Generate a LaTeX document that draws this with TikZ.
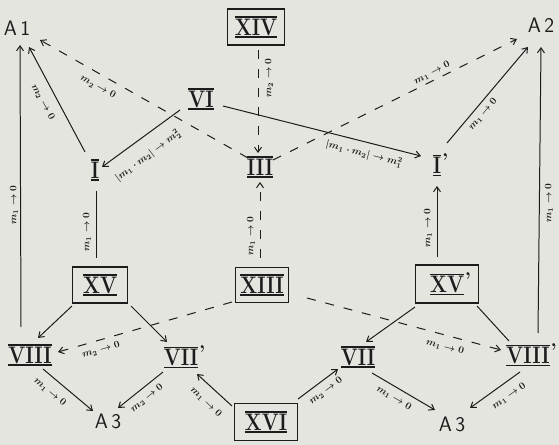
\documentclass[tikz,border=0pt]{standalone}
\usepackage{fontspec}
\usepackage{graphicx}
\usetikzlibrary{arrows.meta}
\definecolor{bg}{RGB}{228,229,223}
\definecolor{ink}{RGB}{28,28,28}
\newcommand{\rnm}[1]{\vbox{\hrule height 1.4pt\kern 1pt\hbox{\scalebox{1}[1.2]{#1}}\kern 1pt\hrule height 1.4pt}}
\newcommand{\prm}{\rlap{\raisebox{8pt}{\kern1pt\textquoteright}}}
\tikzset{
  rnode/.style={inner sep=1pt, font=\bfseries\fontsize{20}{22}\selectfont, text=ink},
  rbox/.style={rnode, draw=ink, line width=1.4pt, inner sep=0pt},
  anode/.style={font=\sffamily\fontsize{21}{23}\selectfont, text=ink, inner sep=1pt},
  lbl/.style={font=\fontsize{10}{11}\selectfont\boldmath, text=ink, inner sep=0pt},
  con/.style={draw=ink, line width=1pt},
  arr/.style={con, -{Straight Barb[length=5pt,width=7pt]}},
  dsh/.style={arr, dash pattern=on 9pt off 10pt},
}
\begin{document}
\begin{tikzpicture}[x=1bp,y=-1bp]
\fill[bg] (0,0) rectangle (559,445);
\useasboundingbox (0,0) rectangle (559,445);
% nodes
\node[anode] (A1) at (17,28) {A\,1};
\node[anode] (A2) at (541,25) {A\,2};
\node[rbox, minimum width=57bp, minimum height=36bp] (XIV) at (256,27) {\rnm{XIV}};
\node[rnode] (VI) at (201,99) {\rnm{VI}};
\node[rnode] (I) at (95,170) {\rnm{I}};
\node[rnode] (III) at (260,167) {\rnm{III}};
\node[rnode] (Ip) at (437,165) {\rnm{I}\prm};
\node[rbox, minimum width=55bp, minimum height=36bp] (XV) at (100,285) {\rnm{XV}};
\node[rbox, minimum width=53bp, minimum height=35bp] (XIII) at (262,285) {\rnm{XIII}};
\node[rbox, minimum width=63bp, minimum height=38bp] (XVp) at (447,284) {\rnm{XV}\prm};
\node[rnode] (VIII) at (30,355) {\rnm{VIII}};
\node[rnode] (VIIp) at (181,357) {\rnm{VII}\prm};
\node[rnode] (VII) at (358,357) {\rnm{VII}};
\node[rnode] (VIIIp) at (528,355) {\rnm{VIII}\prm};
\node[anode] (A3l) at (108,421) {A\,3};
\node[anode] (A3r) at (452,424) {A\,3};
\node[rbox, minimum width=63bp, minimum height=37bp] (XVI) at (266,422) {\rnm{XVI}};
% connectors
\draw[arr] ([shift={(-9,-28)}]VIII.center) -- ([shift={(3,17)}]A1.center);
\draw[arr] ([shift={(-10,-18)}]I.center) -- ([shift={(12,19)}]A1.center);
\draw[dsh] ([shift={(-12,-9)}]III.center) -- ([shift={(23,12)}]A1.center);
\draw[arr] ([shift={(-21,11)}]VI.center) -- ([shift={(7,-3)}]I.center);
\draw[arr] ([shift={(22,7)}]VI.center) -- ([shift={(-16,-9)}]Ip.center);
\draw[dsh] ([shift={(2,23)}]XIV.center) -- ([shift={(-2,-14)}]III.center);
\draw[dsh] ([shift={(-2,-27)}]XIII.center) -- ([shift={(0,15)}]III.center);
\draw[dsh] ([shift={(13,-7)}]III.center) -- ([shift={(-24,14)}]A2.center);
\draw[arr] ([shift={(10,-22)}]Ip.center) -- ([shift={(-13,22)}]A2.center);
\draw[arr] ([shift={(10,-22)}]VIIIp.center) -- ([shift={(0,22)}]A2.center);
\draw[con] ([shift={(-4,-27)}]XV.center) -- ([shift={(1,21)}]I.center);
\draw[arr] ([shift={(-10,-27)}]XVp.center) -- ([shift={(0,21)}]Ip.center);
\draw[arr] ([shift={(-28,21)}]XV.center) -- ([shift={(8,-17)}]VIII.center);
\draw[arr] ([shift={(31,21)}]XV.center) -- ([shift={(-14,-15)}]VIIp.center);
\draw[dsh] ([shift={(-30,17)}]XIII.center) -- ([shift={(28,-3)}]VIII.center);
\draw[dsh] ([shift={(45,13)}]XIII.center) -- ([shift={(-27,-5)}]VIIIp.center);
\draw[arr] ([shift={(-32,23)}]XVp.center) -- ([shift={(8,-15)}]VII.center);
\draw[con] ([shift={(30,22)}]XVp.center) -- ([shift={(-19,-14)}]VIIIp.center);
\draw[arr] ([shift={(13,14)}]VIII.center) -- ([shift={(-15,-10)}]A3l.center);
\draw[arr] ([shift={(-18,15)}]VIIp.center) -- ([shift={(10,-13)}]A3l.center);
\draw[arr] ([shift={(-34,-16)}]XVI.center) -- ([shift={(16,17)}]VIIp.center);
\draw[arr] ([shift={(32,-23)}]XVI.center) -- ([shift={(-20,12)}]VII.center);
\draw[arr] ([shift={(14,16)}]VII.center) -- ([shift={(-17,-14)}]A3r.center);
\draw[arr] ([shift={(-8,17)}]VIIIp.center) -- ([shift={(18,-16)}]A3r.center);
% labels
\node[lbl, rotate=90] (l1) at (14,205) {$m_1\to 0$};
\node[lbl, rotate=-61] (l2) at (43,102) {$m_2\to 0$};
\node[lbl, rotate=-29] (l3) at (98,87) {$m_2\to 0$};
\node[lbl, rotate=37] (l4) at (148,156) {$|m_1\cdot m_2|\to m_2^2$};
\node[lbl, rotate=-14] (l5) at (364,154) {$|m_1\cdot m_2|\to m_1^2$};
\node[lbl, rotate=90] (l6) at (269,78) {$m_2\to 0$};
\node[lbl, rotate=90] (l7) at (251,236) {$m_1\to 0$};
\node[lbl, rotate=27] (l8) at (432,73) {$m_1\to 0$};
\node[lbl, rotate=50] (l9) at (483,114) {$m_1\to 0$};
\node[lbl, rotate=90] (l10) at (549,203) {$m_1\to 0$};
\node[lbl, rotate=90] (l11) at (87,232) {$m_1\to 0$};
\node[lbl, rotate=90] (l12) at (428,228) {$m_1\to 0$};
\node[lbl, rotate=16] (l13) at (101,350) {$m_2\to 0$};
\node[lbl, rotate=-15] (l14) at (445,347) {$m_1\to 0$};
\node[lbl, rotate=-40] (l15) at (50,392) {$m_1\to 0$};
\node[lbl, rotate=39] (l16) at (147,398) {$m_2\to 0$};
\node[lbl, rotate=-43] (l17) at (206,402) {$m_1\to 0$};
\node[lbl, rotate=37] (l18) at (326,391) {$m_2\to 0$};
\node[lbl, rotate=-31] (l19) at (394,398) {$m_1\to 0$};
\node[lbl, rotate=35] (l20) at (509,396) {$m_1\to 0$};
\end{tikzpicture}
\end{document}
